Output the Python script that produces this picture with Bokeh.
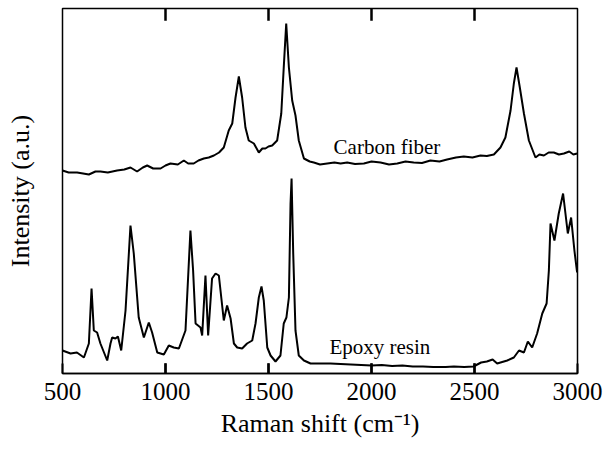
from bokeh.plotting import figure
from bokeh.models import Range1d, FixedTicker, CustomJSTickFormatter, ColumnDataSource
from bokeh.core.properties import value
from bokeh.embed import file_html
from bokeh.resources import INLINE

# Epoxy resin spectrum
epoxy_shift = [500, 539, 570, 604, 628, 641, 652, 668, 684, 717, 733, 741, 757, 769, 785, 806, 830, 846,
               870, 895, 919, 935, 960, 992, 1016, 1040, 1065, 1097, 1121, 1134, 1146, 1170, 1178, 1194,
               1207, 1226, 1243, 1259, 1283, 1299, 1316, 1332, 1348, 1372, 1396, 1421, 1437, 1453, 1466,
               1477, 1494, 1510, 1534, 1558, 1574, 1587, 1599, 1607, 1612, 1620, 1631, 1647, 1672, 1704,
               1752, 1801, 1850, 1900, 1950, 2000, 2050, 2100, 2150, 2200, 2250, 2300, 2360, 2400, 2450,
               2495, 2532, 2560, 2588, 2610, 2659, 2691, 2716, 2740, 2759, 2780, 2804, 2829, 2850, 2861,
               2869, 2888, 2909, 2930, 2953, 2969, 2985, 2998]
epoxy_int = [23, 20, 21, 16, 30, 85, 43, 41, 30, 13, 30, 36, 35, 37, 23, 63, 148, 120,
             56, 36, 51, 41, 21, 19, 28, 26, 25, 43, 143, 103, 50, 46, 38, 98,
             38, 95, 100, 98, 53, 68, 55, 30, 26, 25, 30, 33, 50, 76, 87,
             73, 26, 18, 12, 18, 50, 56, 76, 170, 195, 120, 43, 18, 13, 10,
             10, 10, 9.5, 9, 8.5, 8, 8.5, 7.5, 8, 7, 7, 6.5, 6.5, 7, 6.5,
             7, 11, 12, 14, 10, 13, 16, 23, 21, 32, 26, 40, 60, 70, 103,
             150, 133, 160, 180, 140, 156, 123, 101]

# Carbon fiber spectrum
carbon_shift = [500, 530, 571, 600, 628, 660, 684, 720, 765, 800, 830, 862, 890, 911, 940, 976, 1000,
                1024, 1060, 1089, 1110, 1137, 1160, 1186, 1210, 1235, 1260, 1283, 1307, 1324, 1340, 1356,
                1372, 1388, 1404, 1429, 1453, 1470, 1485, 1500, 1518, 1542, 1562, 1574, 1586, 1599, 1615,
                1631, 1647, 1672, 1700, 1720, 1750, 1785, 1820, 1850, 1882, 1920, 1963, 2000, 2044, 2085,
                2125, 2165, 2205, 2245, 2286, 2330, 2367, 2410, 2448, 2490, 2529, 2560, 2594, 2626, 2650,
                2675, 2691, 2704, 2720, 2740, 2764, 2796, 2815, 2837, 2860, 2885, 2910, 2934, 2960, 2980, 2998]
carbon_int = [203, 201, 201, 200, 199, 202, 202, 201, 203, 204, 206, 202, 206, 208, 205, 205, 208,
              210, 209, 213, 210, 210, 213, 215, 216, 218, 221, 226, 243, 250, 276, 297,
              276, 246, 233, 230, 221, 225, 225, 227, 228, 233, 260, 306, 350, 306, 273,
              258, 233, 215, 212, 211, 209, 210, 211, 210, 211, 209.5, 210, 212, 211, 209,
              210, 212, 211, 210.5, 213, 212, 214, 216, 217, 216, 218, 217.5, 219, 226, 236,
              263, 290, 306, 286, 260, 233, 216, 219, 218, 221, 221, 219, 220, 222, 219, 220]

label_text = ["Carbon fiber", "Epoxy resin"]
label_x = [1816, 1796]
label_y = [227, 27]

x_ticks = [500, 1000, 1500, 2000, 2500, 3000]

FONT = "Liberation Serif"
Y0, Y1 = 0, 365
BOTTOM_TICK = 10
TOP_TICK = 12

p = figure(width=607, height=454, frame_width=515, frame_height=365,
           x_range=Range1d(500, 3000), y_range=Range1d(Y0, Y1),
           output_backend="svg", toolbar_location=None,
           min_border_left=62, min_border_right=30, min_border_top=8, min_border_bottom=81,
           x_axis_label="Raman shift (cm\u207b\u00b9)", y_axis_label="Intensity (a.u.)")

p.line(epoxy_shift, epoxy_int, line_color="black", line_width=2)
p.line(carbon_shift, carbon_int, line_color="black", line_width=2)

# inward tick marks on bottom and top edges, as thin filled bars fully inside the frame
inner_ticks = x_ticks[1:-1]
n = len(inner_ticks)
tick_src = ColumnDataSource(dict(x=inner_ticks + inner_ticks,
                                 y=[Y0 + BOTTOM_TICK / 2] * n + [Y1 - TOP_TICK / 2] * n,
                                 h=[BOTTOM_TICK] * n + [TOP_TICK] * n))
p.rect(x="x", y="y", width=2, height="h", width_units="screen",
       source=tick_src, fill_color="black", line_color="black", line_width=0.5)

src = ColumnDataSource(dict(x=label_x, y=label_y, t=label_text))
p.text(x="x", y="y", text="t", source=src, text_font=value(FONT), text_font_size="21px",
       text_color="black", text_baseline="alphabetic", text_align="left")

p.grid.visible = False
p.outline_line_color = "black"
p.outline_line_width = 1.5
p.background_fill_color = "white"
p.border_fill_color = "white"

xa = p.xaxis[0]
xa.ticker = FixedTicker(ticks=x_ticks, minor_ticks=[])
xa.major_tick_in = 10
xa.major_tick_out = 0
xa.major_tick_line_color = "black"
xa.major_tick_line_width = 2
xa.minor_tick_line_color = None
xa.axis_line_color = "black"
xa.axis_line_width = 1.5
xa.major_label_text_font = FONT
xa.major_label_text_font_size = "25px"
xa.major_label_text_color = "black"
xa.major_label_standoff = 9
xa.axis_label_text_font = FONT
xa.axis_label_text_font_size = "26px"
xa.axis_label_text_font_style = "normal"
xa.axis_label_text_color = "black"
xa.axis_label_standoff = 6

ya = p.yaxis[0]
ya.major_tick_line_color = None
ya.minor_tick_line_color = None
ya.major_tick_in = 0
ya.major_tick_out = 0
ya.axis_line_color = None
ya.formatter = CustomJSTickFormatter(code="return '';")
ya.major_label_standoff = 0
ya.axis_label_text_font = FONT
ya.axis_label_text_font_size = "26px"
ya.axis_label_text_font_style = "normal"
ya.axis_label_text_color = "black"
ya.axis_label_standoff = 24

open("out.html", "w").write(file_html(p, INLINE))
